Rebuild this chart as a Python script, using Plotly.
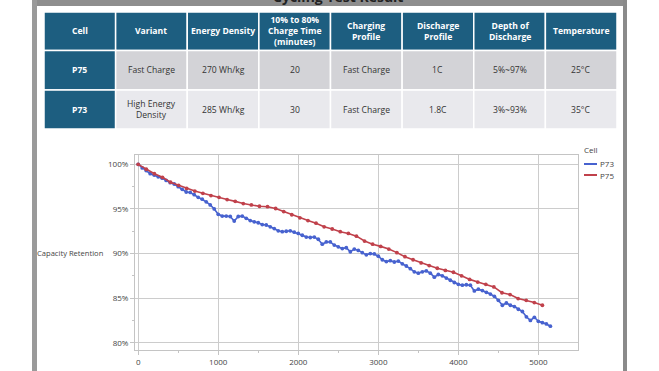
import plotly.graph_objects as go

W, H = 659, 371

# ---------------- data ----------------
table_header = ["Cell", "Variant", "Energy Density", "10% to 80%<br>Charge Time<br>(minutes)",
                "Charging<br>Profile", "Discharge<br>Profile", "Depth of<br>Discharge", "Temperature"]
table_rows = [
    ["P75", "Fast Charge", "270 Wh/kg", "20", "Fast Charge", "1C", "5%~97%", "25°C"],
    ["P73", "High Energy<br>Density", "285 Wh/kg", "30", "Fast Charge", "1.8C", "3%~93%", "35°C"],
]

p75_cycles = [101 * i for i in range(51)]
p75_retention = [100.0, 99.45, 98.95, 98.55, 98.0, 97.65, 97.3, 97.0, 96.75, 96.5,
                 96.3, 96.05, 95.85, 95.6, 95.45, 95.3, 95.25, 95.05, 94.7, 94.35,
                 94.0, 93.7, 93.4, 93.0, 92.75, 92.45, 92.25, 91.95, 91.4, 91.05,
                 90.8, 90.5, 90.1, 89.65, 89.3, 88.95, 88.65, 88.35, 88.1, 87.9,
                 87.5, 87.1, 86.8, 86.55, 86.25, 85.6, 85.4, 84.95, 84.75, 84.5,
                 84.2]

p73_cycles = [50 * i for i in range(104)]
p73_retention = [100.0, 99.6, 99.3, 98.95, 98.8, 98.6, 98.45, 98.2, 97.95, 97.8,
                 97.5, 97.2, 96.9, 96.85, 96.6, 96.3, 96.1, 95.8, 95.45, 95.0,
                 94.4, 94.2, 94.2, 94.15, 93.65, 94.15, 94.2, 93.95, 93.7, 93.55,
                 93.45, 93.25, 93.2, 93.0, 92.8, 92.55, 92.45, 92.5, 92.55, 92.4,
                 92.25, 92.05, 91.85, 91.8, 91.85, 91.6, 91.05, 91.3, 91.3, 90.95,
                 90.75, 90.55, 90.65, 90.2, 90.5, 90.35, 90.1, 89.85, 90.0, 89.95,
                 89.7, 89.3, 89.1, 89.2, 89.05, 89.15, 88.85, 88.6, 88.3, 87.95,
                 87.8, 87.95, 88.05, 87.8, 87.35, 87.65, 87.5, 87.25, 87.0, 86.75,
                 86.55, 86.45, 86.5, 86.45, 85.8, 86.0, 85.85, 85.65, 85.45, 85.2,
                 84.75, 84.2, 84.45, 84.2, 84.05, 83.75, 83.5, 82.9, 82.5, 82.85,
                 82.4, 82.25, 82.1, 81.85]

x_ticks = [0, 1000, 2000, 3000, 4000, 5000]
y_ticks = [80, 85, 90, 95, 100]
y_tick_labels = ["80%", "85%", "90%", "95%", "100%"]

# ---------------- helpers ----------------
def fx(x):
    return x / W

def fy(y):
    return 1 - y / H

TEAL = "#1d5e80"
ROW_BG = ["#d3d3d7", "#e9e9ed"]
BLUE = "#4762cf"
RED = "#c0414b"
FONT = "Open Sans"

fig = go.Figure()

fig.add_trace(go.Scatter(x=p73_cycles, y=p73_retention, mode="lines+markers", name="P73",
                         line=dict(color=BLUE, width=1.6), marker=dict(size=3.8, color=BLUE)))
fig.add_trace(go.Scatter(x=p75_cycles, y=p75_retention, mode="lines+markers", name="P75",
                         line=dict(color=RED, width=1.6), marker=dict(size=3.8, color=RED)))

shapes = []
annotations = []

# frame of the screenshot
shapes.append(dict(type="rect", xref="paper", yref="paper", x0=fx(37), x1=fx(623), y0=fy(6), y1=fy(-2),
                   fillcolor="#8e8e8e", line=dict(width=0), layer="below"))
shapes.append(dict(type="rect", xref="paper", yref="paper", x0=fx(32), x1=fx(37), y0=fy(372), y1=fy(-2),
                   fillcolor="#9a9a9a", line=dict(width=0), layer="below"))
shapes.append(dict(type="rect", xref="paper", yref="paper", x0=fx(623), x1=fx(627), y0=fy(372), y1=fy(-2),
                   fillcolor="#8a8a8a", line=dict(width=0), layer="below"))
annotations.append(dict(text="<b>Cycling Test Result</b>", xref="paper", yref="paper", x=fx(338), y=fy(7),
                        xanchor="center", yanchor="bottom", showarrow=False, borderpad=0,
                        font=dict(family=FONT, size=14, color="#222")))

# table
col_left, col_right = 44, 617
row_edges = [12, 50.5, 90, 129]
ncol = len(table_header)
cw = (col_right - col_left) / ncol
for r in range(3):
    y0, y1 = row_edges[r], row_edges[r + 1]
    for c in range(ncol):
        x0, x1 = col_left + c * cw, col_left + (c + 1) * cw
        if r == 0 or c == 0:
            fill = TEAL
        else:
            fill = ROW_BG[r - 1]
        shapes.append(dict(type="rect", xref="paper", yref="paper",
                           x0=fx(x0), x1=fx(x1), y0=fy(y1), y1=fy(y0),
                           fillcolor=fill, line=dict(color="white", width=1.5), layer="below"))
        if r == 0:
            txt, col, bold = table_header[c], "white", True
        else:
            txt = table_rows[r - 1][c]
            col, bold = ("white", True) if c == 0 else ("#333333", False)
        annotations.append(dict(text=("<b>%s</b>" % txt) if bold else txt,
                                xref="paper", yref="paper", x=fx((x0 + x1) / 2), y=fy((y0 + y1) / 2),
                                xanchor="center", yanchor="middle", showarrow=False,
                                font=dict(family=FONT, size=8.6, color=col)))

# y-axis title (horizontal)
annotations.append(dict(text="Capacity Retention", xref="paper", yref="paper", x=fx(106), y=fy(253),
                        xanchor="right", yanchor="middle", showarrow=False,
                        font=dict(family=FONT, size=7.6, color="#444")))

# legend (drawn manually)
annotations.append(dict(text="Cell", xref="paper", yref="paper", x=fx(582), y=fy(150),
                        xanchor="left", yanchor="middle", showarrow=False,
                        font=dict(family=FONT, size=8, color="#444")))
for yy, name, colr in [(164, "P73", BLUE), (175, "P75", RED)]:
    shapes.append(dict(type="line", xref="paper", yref="paper", x0=fx(584), x1=fx(597), y0=fy(yy), y1=fy(yy),
                       line=dict(color=colr, width=2)))
    annotations.append(dict(text=name, xref="paper", yref="paper", x=fx(597.5), y=fy(yy),
                            xanchor="left", yanchor="middle", showarrow=False,
                            font=dict(family=FONT, size=8, color="#444")))

axis_common = dict(showline=True, mirror=True, linecolor="#c4c4c4", linewidth=1,
                   showgrid=True, gridcolor="#cccccc", gridwidth=1, zeroline=False,
                   ticks="outside", ticklen=4, tickcolor="#c4c4c4",
                   tickfont=dict(family=FONT, size=8, color="#444"))

fig.update_layout(
    width=W, height=H, margin=dict(l=0, r=0, t=0, b=0),
    paper_bgcolor="white", plot_bgcolor="white", showlegend=False,
    xaxis=dict(domain=[fx(135), fx(578)], range=[-40, 5495], tickvals=x_ticks,
               minor=dict(tickvals=[500, 1500, 2500, 3500, 4500, 5500], ticklen=2, tickcolor="#c4c4c4",
                          ticks="outside", showgrid=False),
               **axis_common),
    yaxis=dict(domain=[fy(350), fy(155)], range=[79.18, 101.05], tickvals=y_ticks,
               ticktext=y_tick_labels,
               minor=dict(tickvals=[82.5, 87.5, 92.5, 97.5], ticklen=2, tickcolor="#c4c4c4",
                          ticks="outside", showgrid=False),
               **axis_common),
    shapes=shapes, annotations=annotations,
)

fig.write_html("out.html", config={"displayModeBar": False},
               post_script="document.body.style.margin='0';document.body.style.overflow='hidden';")
